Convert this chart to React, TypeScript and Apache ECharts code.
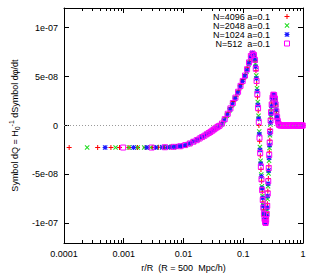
import React, { useEffect, useRef } from "react";
import * as echarts from "echarts";

const xTickLabels = ["0.0001", "0.001", "0.01", "0.1", "1"];
const yTickValues = [-1e-7, -5e-8, 0, 5e-8, 1e-7];
const yTickLabels = ["-1e-07", "-5e-08", "0", "5e-08", "1e-07"];
const seriesNames = ["N=4096 a=0.1", "N=2048 a=0.1", "N=1024 a=0.1", "N=512  a=0.1"];
const UNIT = 1e-8; // values below are in units of 1e-8

const n4096: number[][] = [
  [1.22e-4, -2.25], [3.66e-4, -2.25], [6.1e-4, -2.25], [8.5e-4, -2.25], [1.22e-3, -2.25], [1.7e-3, -2.25],
  [2.3e-3, -2.25], [3.0e-3, -2.24], [3.8e-3, -2.23], [4.8e-3, -2.22], [6.0e-3, -2.2], [7.5e-3, -2.17],
  [9.2e-3, -2.1], [0.0112, -1.97], [0.0135, -1.75], [0.016, -1.55], [0.019, -1.3], [0.022, -1.07],
  [0.026, -0.8], [0.03, -0.55], [0.034, -0.3], [0.039, -0.05], [0.044, 0.25], [0.05, 0.78], [0.056, 1.3],
  [0.062, 1.85], [0.069, 2.45], [0.076, 3.0], [0.084, 3.6], [0.092, 4.2], [0.1, 4.7], [0.109, 5.2],
  [0.118, 5.9], [0.127, 6.6], [0.136, 7.2], [0.145, 7.35], [0.152, 7.15], [0.158, 6.6], [0.163, 5.6],
  [0.168, 4.3], [0.173, 2.9], [0.178, 1.5], [0.183, 0.0], [0.188, -1.6], [0.193, -3.1], [0.198, -4.5],
  [0.203, -5.7], [0.208, -6.8], [0.213, -7.8], [0.218, -8.6], [0.223, -9.2], [0.228, -9.65], [0.233, -9.9],
  [0.238, -9.95], [0.243, -9.5], [0.248, -8.9], [0.253, -8.0], [0.258, -6.7], [0.263, -5.4], [0.268, -4.1],
  [0.273, -2.7], [0.278, -1.5], [0.283, -0.4], [0.288, 0.7], [0.293, 1.6], [0.3, 2.3], [0.31, 2.9],
  [0.32, 3.15], [0.33, 3.1], [0.34, 2.7], [0.35, 2.1], [0.36, 1.4], [0.37, 0.8], [0.38, 0.4], [0.39, 0.15],
  [0.4, 0.05], [0.43, 0], [0.47, 0], [0.52, 0], [0.58, 0], [0.65, 0], [0.73, 0], [0.82, 0], [0.91, 0], [1.0, 0],
];

const n2048: number[][] = [
  [2.44e-4, -2.25], [7.3e-4, -2.25], [1.22e-3, -2.25], [1.71e-3, -2.25], [2.2e-3, -2.25], [2.8e-3, -2.24],
  [3.5e-3, -2.23], [4.4e-3, -2.22], [5.4e-3, -2.21], [6.7e-3, -2.18], [8.3e-3, -2.13], [0.0102, -2.03],
  [0.0124, -1.86], [0.0148, -1.64], [0.0175, -1.42], [0.0205, -1.18], [0.024, -0.93], [0.028, -0.68],
  [0.032, -0.42], [0.0365, -0.18], [0.0415, 0.02], [0.047, 0.45], [0.053, 1.0], [0.059, 1.55], [0.065, 2.1],
  [0.072, 2.7], [0.08, 3.3], [0.088, 3.9], [0.096, 4.45], [0.104, 4.95], [0.113, 5.5], [0.122, 6.2],
  [0.131, 6.85], [0.14, 7.35], [0.148, 7.3], [0.155, 6.95], [0.16, 6.3], [0.165, 5.1], [0.17, 3.8],
  [0.175, 2.4], [0.18, 1.0], [0.185, -0.6], [0.19, -2.2], [0.195, -3.6], [0.2, -5.0], [0.205, -6.2],
  [0.21, -7.2], [0.215, -8.1], [0.22, -8.8], [0.225, -9.4], [0.23, -9.75], [0.235, -9.95], [0.24, -9.85],
  [0.245, -9.3], [0.25, -8.6], [0.255, -7.5], [0.26, -6.2], [0.265, -4.9], [0.27, -3.6], [0.275, -2.3],
  [0.28, -1.0], [0.285, 0.1], [0.29, 1.0], [0.295, 1.7], [0.305, 2.65], [0.315, 3.05], [0.325, 3.15],
  [0.335, 2.95], [0.345, 2.4], [0.355, 1.75], [0.365, 1.1], [0.375, 0.6], [0.385, 0.25], [0.395, 0.1],
  [0.41, 0.02], [0.45, 0], [0.5, 0], [0.56, 0], [0.62, 0], [0.7, 0], [0.78, 0], [0.87, 0], [0.96, 0],
];

const n1024: number[][] = [
  [4.88e-4, -2.25], [1.46e-3, -2.25], [2.44e-3, -2.25], [3.42e-3, -2.24], [4.39e-3, -2.23], [5.37e-3, -2.21],
  [6.35e-3, -2.19], [7.32e-3, -2.17], [8.3e-3, -2.13], [9.28e-3, -2.09], [0.0103, -2.03], [0.0117, -1.92],
  [0.0132, -1.78], [0.015, -1.62], [0.017, -1.45], [0.0193, -1.26], [0.0218, -1.08], [0.0246, -0.88],
  [0.0277, -0.68], [0.031, -0.47], [0.0346, -0.26], [0.0385, -0.08], [0.043, 0.12], [0.048, 0.55],
  [0.054, 1.1], [0.06, 1.65], [0.066, 2.2], [0.073, 2.75], [0.081, 3.35], [0.089, 3.95], [0.097, 4.5],
  [0.106, 5.05], [0.115, 5.65], [0.124, 6.35], [0.133, 7.0], [0.142, 7.4], [0.15, 7.25], [0.156, 6.8],
  [0.161, 6.0], [0.166, 4.8], [0.171, 3.5], [0.176, 2.1], [0.181, 0.7], [0.186, -0.9], [0.191, -2.5],
  [0.196, -3.9], [0.201, -5.2], [0.206, -6.4], [0.211, -7.4], [0.216, -8.25], [0.221, -8.95], [0.226, -9.5],
  [0.231, -9.8], [0.236, -10.0], [0.241, -9.8], [0.246, -9.2], [0.251, -8.4], [0.256, -7.2], [0.261, -5.95],
  [0.266, -4.6], [0.271, -3.3], [0.276, -2.0], [0.281, -0.8], [0.286, 0.3], [0.291, 1.2], [0.297, 2.0],
  [0.307, 2.75], [0.317, 3.1], [0.327, 3.15], [0.337, 2.85], [0.347, 2.3], [0.357, 1.6], [0.367, 0.95],
  [0.377, 0.5], [0.387, 0.2], [0.398, 0.07], [0.42, 0.01], [0.46, 0], [0.51, 0], [0.57, 0], [0.64, 0],
  [0.72, 0], [0.8, 0], [0.89, 0], [0.98, 0],
];

const n512: number[][] = [
  [9.77e-4, -2.25], [2.93e-3, -2.25], [4.88e-3, -2.22], [6.84e-3, -2.18], [8.79e-3, -2.12], [0.0107, -2.0],
  [0.0127, -1.84], [0.0146, -1.66], [0.0166, -1.5], [0.0186, -1.33], [0.0205, -1.18], [0.0225, -1.04],
  [0.0244, -0.9], [0.0264, -0.77], [0.0283, -0.65], [0.0303, -0.53], [0.0322, -0.41], [0.0342, -0.29],
  [0.0361, -0.19], [0.0381, -0.1], [0.04, -0.03], [0.044, 0.2], [0.049, 0.65], [0.055, 1.2], [0.061, 1.75],
  [0.067, 2.3], [0.074, 2.85], [0.082, 3.45], [0.09, 4.05], [0.098, 4.55], [0.107, 5.1], [0.116, 5.75],
  [0.125, 6.45], [0.134, 7.1], [0.143, 7.35], [0.151, 7.2], [0.157, 6.7], [0.162, 5.8], [0.167, 4.55],
  [0.172, 3.2], [0.177, 1.8], [0.182, 0.35], [0.187, -1.25], [0.192, -2.8], [0.197, -4.2], [0.202, -5.5],
  [0.207, -6.6], [0.212, -7.6], [0.217, -8.4], [0.222, -9.05], [0.227, -9.55], [0.232, -9.85], [0.237, -9.95],
  [0.242, -9.65], [0.247, -9.05], [0.252, -8.2], [0.257, -6.95], [0.262, -5.7], [0.267, -4.35], [0.272, -3.0],
  [0.277, -1.75], [0.282, -0.6], [0.287, 0.5], [0.292, 1.35], [0.299, 2.15], [0.309, 2.85], [0.319, 3.15],
  [0.329, 3.1], [0.339, 2.75], [0.349, 2.15], [0.359, 1.45], [0.369, 0.85], [0.379, 0.45], [0.389, 0.18],
  [0.399, 0.06], [0.41, 0.02], [0.42, 0], [0.44, 0], [0.46, 0], [0.48, 0], [0.5, 0], [0.52, 0], [0.54, 0],
  [0.56, 0], [0.58, 0], [0.6, 0], [0.63, 0], [0.66, 0], [0.69, 0], [0.72, 0], [0.75, 0], [0.78, 0],
  [0.81, 0], [0.84, 0], [0.87, 0], [0.9, 0], [0.93, 0], [0.96, 0], [0.99, 0],
];

const seriesData = [n4096, n2048, n1024, n512];
const seriesColors = ["#ff0000", "#1fdc1f", "#1a1aff", "#ff00ff"];

const PLUS = "path://M4,0H6V4H10V6H6V10H4V6H0V4H4Z";
const CROSS = "path://M0,1.4L1.4,0L5,3.6L8.6,0L10,1.4L6.4,5L10,8.6L8.6,10L5,6.4L1.4,10L0,8.6L3.6,5Z";
const STAR =
  "path://M4,0H6V4H10V6H6V10H4V6H0V4H4Z M0,1.4L1.4,0L5,3.6L8.6,0L10,1.4L6.4,5L10,8.6L8.6,10L5,6.4L1.4,10L0,8.6L3.6,5Z";
const SQUARE = "path://M0,0H10V10H0Z";
const symbols = [PLUS, CROSS, STAR, SQUARE];
const hollow = [false, false, false, true];

const FONT = "'Liberation Sans', Arial, sans-serif";
const FS = 9;

const minorTicks: number[] = [];
for (const d of [1e-4, 1e-3, 1e-2, 1e-1]) {
  for (let k = 2; k <= 9; k++) minorTicks.push(k * d);
}

export default function App() {
  const ref = useRef<HTMLDivElement>(null);
  useEffect(() => {
    if (!ref.current) return;
    const chart = echarts.init(ref.current, null, { renderer: "svg" });
    const xLabel = (v: number) => {
      const i = Math.round(Math.log10(v)) + 4;
      return xTickLabels[i] ?? "";
    };
    const yLabel = (v: number) => {
      for (let i = 0; i < yTickValues.length; i++) {
        if (Math.abs(v - yTickValues[i]) < 1e-12) return yTickLabels[i];
      }
      return "";
    };
    const baseX = {
      type: "log",
      logBase: 10,
      min: 1e-4,
      max: 1,
      splitLine: { show: false },
    };
    const baseY = {
      type: "value",
      min: -1.2e-7,
      max: 1.2e-7,
      splitLine: { show: false },
    };
    const tickStyle = { color: "#000", width: 1 };
    const styleFor = (i: number) =>
      hollow[i]
        ? { color: "rgba(255,255,255,0)", borderColor: seriesColors[i], borderWidth: 1, opacity: 1 }
        : { color: seriesColors[i], borderWidth: 0, opacity: 1 };
    const legendItems = seriesNames.map((n, i) => ({ name: n, icon: symbols[i], itemStyle: styleFor(i) }));
    const option: any = {
      animation: false,
      backgroundColor: "#fff",
      grid: { left: 62, right: 9, top: 8, bottom: 29 },
      legend: {
        orient: "vertical",
        align: "right",
        right: 22,
        top: 12,
        padding: 0,
        itemGap: 0,
        itemWidth: 24,
        itemHeight: 5,
        textStyle: { fontSize: FS, lineHeight: 9, fontFamily: FONT, color: "#000" },
        data: legendItems,
        selectedMode: false,
      },
      xAxis: [
        {
          ...baseX,
          position: "bottom",
          axisLine: { show: true, onZero: false, lineStyle: { color: "#000", width: 1 } },
          axisTick: { show: true, inside: true, length: 5, lineStyle: tickStyle },
          axisLabel: { formatter: xLabel, fontSize: FS, fontFamily: FONT, color: "#000", margin: 6 },
          name: "r/R  (R = 500  Mpc/h)",
          nameLocation: "middle",
          nameGap: 20,
          nameTextStyle: { fontSize: FS, fontFamily: FONT, color: "#000" },
        },
        {
          ...baseX,
          position: "bottom",
          axisLine: { show: false, onZero: false },
          axisTick: { show: true, inside: true, length: 3, customValues: minorTicks, lineStyle: tickStyle },
          axisLabel: { show: false },
        },
        {
          ...baseX,
          position: "top",
          axisLine: { show: true, onZero: false, lineStyle: { color: "#000", width: 1 } },
          axisTick: { show: true, inside: true, length: 5, lineStyle: tickStyle },
          axisLabel: { show: false },
        },
        {
          ...baseX,
          position: "top",
          axisLine: { show: false, onZero: false },
          axisTick: { show: true, inside: true, length: 3, customValues: minorTicks, lineStyle: tickStyle },
          axisLabel: { show: false },
        },
      ],
      yAxis: [
        {
          ...baseY,
          position: "left",
          axisLine: { show: true, onZero: false, lineStyle: { color: "#000", width: 1 } },
          axisTick: { show: true, inside: true, length: 5, customValues: yTickValues, lineStyle: tickStyle },
          axisLabel: {
            customValues: yTickValues,
            formatter: yLabel,
            fontSize: FS,
            fontFamily: FONT,
            color: "#000",
            margin: 6,
          },
          name: "Symbol dQ = H{sub|0}{sup|-1} dSymbol dφ/dt",
          nameLocation: "middle",
          nameRotate: 90,
          nameGap: 43,
          nameTextStyle: {
            fontSize: FS,
            fontFamily: FONT,
            color: "#000",
            rich: {
              sub: { fontSize: 7, fontFamily: FONT, color: "#000", verticalAlign: "bottom", lineHeight: 13 },
              sup: { fontSize: 7, fontFamily: FONT, color: "#000", verticalAlign: "top", lineHeight: 13 },
            },
          },
        },
        {
          ...baseY,
          position: "right",
          axisLine: { show: true, onZero: false, lineStyle: { color: "#000", width: 1 } },
          axisTick: { show: true, inside: true, length: 5, customValues: yTickValues, lineStyle: tickStyle },
          axisLabel: { show: false },
        },
      ],
      series: seriesData.map((d, i) => ({
        name: seriesNames[i],
        type: "scatter",
        xAxisIndex: 0,
        yAxisIndex: 0,
        symbol: symbols[i],
        symbolSize: hollow[i] ? 5 : 5,
        silent: true,
        itemStyle: styleFor(i),
        data: d.map((p) => [p[0], p[1] * UNIT]),
        ...(i === 0
          ? {
              markLine: {
                silent: true,
                symbol: ["none", "none"],
                label: { show: false },
                lineStyle: { color: "#9a9a9a", type: [1, 2], width: 1 },
                data: [{ yAxis: 0 }],
              },
            }
          : {}),
      })),
    };
    chart.setOption(option);
    return () => chart.dispose();
  }, []);
  return (
    <div
      ref={ref}
      style={{ position: "fixed", left: 0, top: 0, width: 312, height: 277, background: "#fff" }}
    />
  );
}
